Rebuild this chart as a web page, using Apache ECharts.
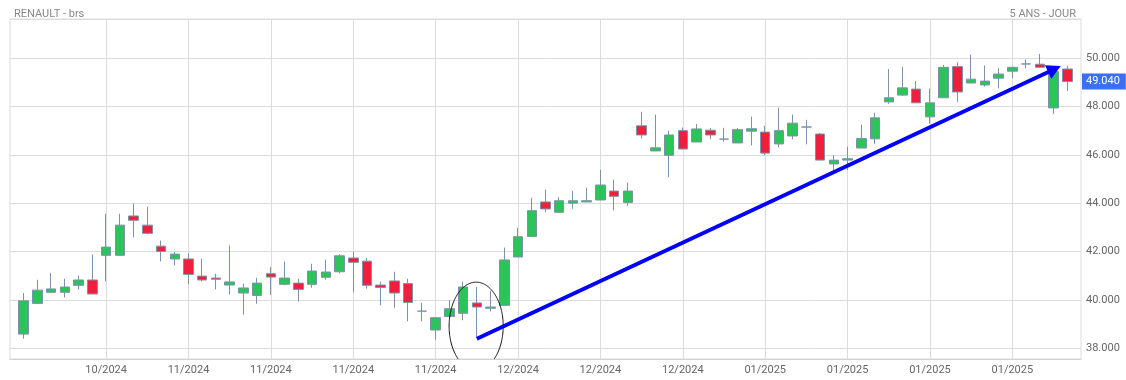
<!DOCTYPE html>
<html><head><meta charset="utf-8">
<script src="https://cdn.jsdelivr.net/npm/echarts@6/dist/echarts.min.js"></script>
<style>html,body{margin:0;padding:0;background:#fff}#c{width:1126px;height:380px}</style>
</head><body><div id="c"></div>
<script>
const titleText = 'RENAULT - brs';
const periodText = '5 ANS - JOUR';
const tickLabels = ['10/2024','11/2024','11/2024','11/2024','11/2024','12/2024','12/2024','12/2024','01/2025','01/2025','01/2025','01/2025'];
const opens  = [38.59,39.86,40.32,40.32,40.61,40.83,41.85,41.85,43.48,43.10,42.23,41.70,41.70,40.99,40.91,40.62,40.29,40.19,41.09,40.65,40.70,40.65,40.94,41.17,41.74,41.61,40.62,40.79,40.68,39.54,38.76,39.32,39.45,39.88,39.66,39.78,41.78,42.63,44.06,43.63,44.01,44.06,44.14,44.51,44.04,47.21,46.17,45.99,47.01,46.54,47.03,46.66,46.50,46.99,46.95,46.46,46.79,47.16,46.87,45.63,45.79,46.29,46.67,48.20,48.48,48.73,47.58,48.37,49.66,48.98,48.90,49.18,49.47,49.77,49.76,47.95,49.56];
const closes = [39.97,40.41,40.46,40.54,40.83,40.25,42.19,43.10,43.30,42.76,42.01,41.90,41.06,40.83,40.86,40.75,40.50,40.70,40.95,40.91,40.44,41.20,41.16,41.83,41.56,40.61,40.52,40.29,39.90,39.54,39.27,39.64,40.54,39.71,39.71,41.66,42.62,43.70,43.77,44.11,44.11,44.11,44.76,44.29,44.51,46.83,46.30,46.83,46.25,47.08,46.83,46.66,47.05,47.09,46.08,47.01,47.32,47.16,45.79,45.79,45.85,46.68,47.54,48.37,48.78,48.16,48.16,49.63,48.61,49.14,49.06,49.35,49.63,49.77,49.63,49.45,49.04];
const lows   = [38.40,39.84,40.30,40.11,40.43,40.24,40.77,41.85,42.59,42.72,41.60,41.43,40.65,40.77,40.44,40.23,39.39,39.85,40.22,40.61,39.94,40.51,40.84,41.10,40.32,40.47,39.78,39.68,39.12,39.12,38.36,39.30,39.16,38.45,39.53,39.78,41.78,42.63,43.63,43.63,43.78,44.06,44.14,43.71,43.90,46.69,46.17,45.08,46.25,46.54,46.65,46.55,46.50,46.40,45.99,46.32,46.65,46.44,45.79,45.35,45.38,46.29,46.46,48.12,48.44,48.16,47.30,48.37,48.20,48.98,48.83,48.76,49.18,49.59,49.63,47.70,48.65];
const highs  = [40.29,40.84,41.13,40.88,41.01,41.88,43.57,43.57,43.99,43.86,42.46,41.99,41.94,41.71,41.09,42.26,40.68,40.92,41.37,41.59,40.88,41.50,41.67,41.90,42.00,41.74,40.76,41.17,40.88,39.89,39.30,40.00,40.76,40.54,40.39,42.17,42.99,44.23,44.57,44.26,44.52,44.65,45.39,44.98,44.86,47.79,47.67,47.01,47.14,47.28,47.12,47.13,47.12,47.59,47.21,47.96,47.67,47.46,46.91,46.00,46.34,47.26,47.75,49.56,49.65,49.07,48.75,49.73,49.84,50.16,49.71,49.59,49.65,49.96,50.18,49.55,49.69];
const lastPrice = 49.04;
const yMin = 37.56, yMax = 51.63;
// annotations (in data space: [slot, price])
const trendStart = [34.0, 38.40];
const trendEnd = [76.53, 49.68];
const circleCenter = [33.95, 38.92];
const circleRadius = [1.97, 1.82];

const nSlots = opens.length + 2;
const categories = [];
const labelAt = {};
for (let i = 0; i < nSlots; i++) categories.push('s' + i);
tickLabels.forEach((t, k) => { labelAt[7 + 6 * k] = t; });
const candleData = opens.map((o, i) => [i + 1, o, closes[i], lows[i], highs[i]]);

const chart = echarts.init(document.getElementById('c'), null, {renderer: 'canvas'});
const font = 'Roboto';
chart.setOption({
  animation: false,
  backgroundColor: '#fff',
  textStyle: {fontFamily: font},
  title: [
    {text: titleText, left: 9, top: 4, textStyle: {fontSize: 11, fontWeight: 'normal', color: '#888', fontFamily: font}},
    {text: periodText, right: 45, top: 4, textStyle: {fontSize: 11, fontWeight: 'normal', color: '#888', fontFamily: font}}
  ],
  grid: {left: 10, right: 45, top: 19, bottom: 21, show: true, borderColor: '#dcdcdc', borderWidth: 1},
  xAxis: [{
    type: 'category', data: categories, boundaryGap: false,
    axisLine: {show: true, lineStyle: {color: '#d0d0d0'}},
    axisTick: {show: false},
    axisLabel: {
      interval: (i) => labelAt[i] !== undefined,
      formatter: (v, i) => labelAt[i] || '',
      color: '#666', fontSize: 11, margin: 6, fontFamily: font
    },
    splitLine: {show: true, interval: (i) => labelAt[i] !== undefined, lineStyle: {color: '#dcdcdc'}}
  }, {
    type: 'value', min: 0, max: nSlots - 1, show: false
  }],
  yAxis: {
    type: 'value', position: 'right', min: yMin, max: yMax, splitNumber: 7, scale: true,
    axisLine: {show: false}, axisTick: {show: false},
    axisLabel: {
      showMinLabel: false, showMaxLabel: false, margin: 5, color: '#666', fontSize: 11, fontFamily: font,
      formatter: (v) => (Math.abs(v / 2 - Math.round(v / 2)) < 1e-6 ? v.toFixed(3) : '')
    },
    splitLine: {show: true, lineStyle: {color: '#dcdcdc'}}
  },
  series: [{
    type: 'candlestick',
    data: candleData,
    encode: {x: 0, y: [1, 2, 3, 4]},
    barWidth: 10,
    itemStyle: {
      color: '#2cc35a', color0: '#f01f3d',
      borderColor: '#7c92ab', borderColor0: '#7c92ab', borderColorDoji: '#7c92ab', borderWidth: 1
    },
    markLine: {
      silent: true, symbol: 'none',
      data: [{yAxis: lastPrice}],
      lineStyle: {color: 'rgba(0,0,0,0)', width: 1, opacity: 1},
      label: {
        show: true, position: 'end', distance: 1, opacity: 1,
        formatter: () => lastPrice.toFixed(3),
        backgroundColor: '#3b6ff5', color: '#fff', padding: [3, 6, 2, 4], fontSize: 11, fontFamily: font
      }
    }
  }, {
    type: 'custom',
    xAxisIndex: 1, yAxisIndex: 0,
    clip: false, silent: true, z: 10,
    data: [[0]],
    renderItem: (params, api) => {
      const bottom = api.coord([0, yMin])[1];
      const p0 = api.coord(trendStart);
      const p1 = api.coord(trendEnd);
      const c = api.coord(circleCenter);
      const r = api.size(circleRadius, circleCenter);
      // ellipse outline clipped to the plot area (start at the bottom so the visible arc is contiguous)
      const pts = [];
      const N = 240;
      for (let k = 0; k <= N; k++) {
        const t = Math.PI / 2 + (2 * Math.PI * k) / N;
        const x = c[0] + r[0] * Math.cos(t);
        const y = c[1] + r[1] * Math.sin(t);
        if (y <= bottom) pts.push([x, y]);
      }
      const dx = p1[0] - p0[0], dy = p1[1] - p0[1];
      const len = Math.sqrt(dx * dx + dy * dy);
      const ux = dx / len, uy = dy / len;
      const nx = -uy, ny = ux;
      const headL = 14, headW = 7.5;
      const bx = p1[0] - ux * headL, by = p1[1] - uy * headL;
      return {
        type: 'group',
        children: [
          {type: 'polyline', shape: {points: pts}, style: {fill: null, stroke: '#111', lineWidth: 1}},
          {type: 'line', shape: {x1: p0[0], y1: p0[1], x2: bx + ux * 2, y2: by + uy * 2}, style: {stroke: '#0000ff', lineWidth: 4}},
          {type: 'polygon', shape: {points: [[p1[0], p1[1]], [bx + nx * headW, by + ny * headW], [bx - nx * headW, by - ny * headW]]}, style: {fill: '#0000ff'}}
        ]
      };
    }
  }]
});
</script>
</body></html>
